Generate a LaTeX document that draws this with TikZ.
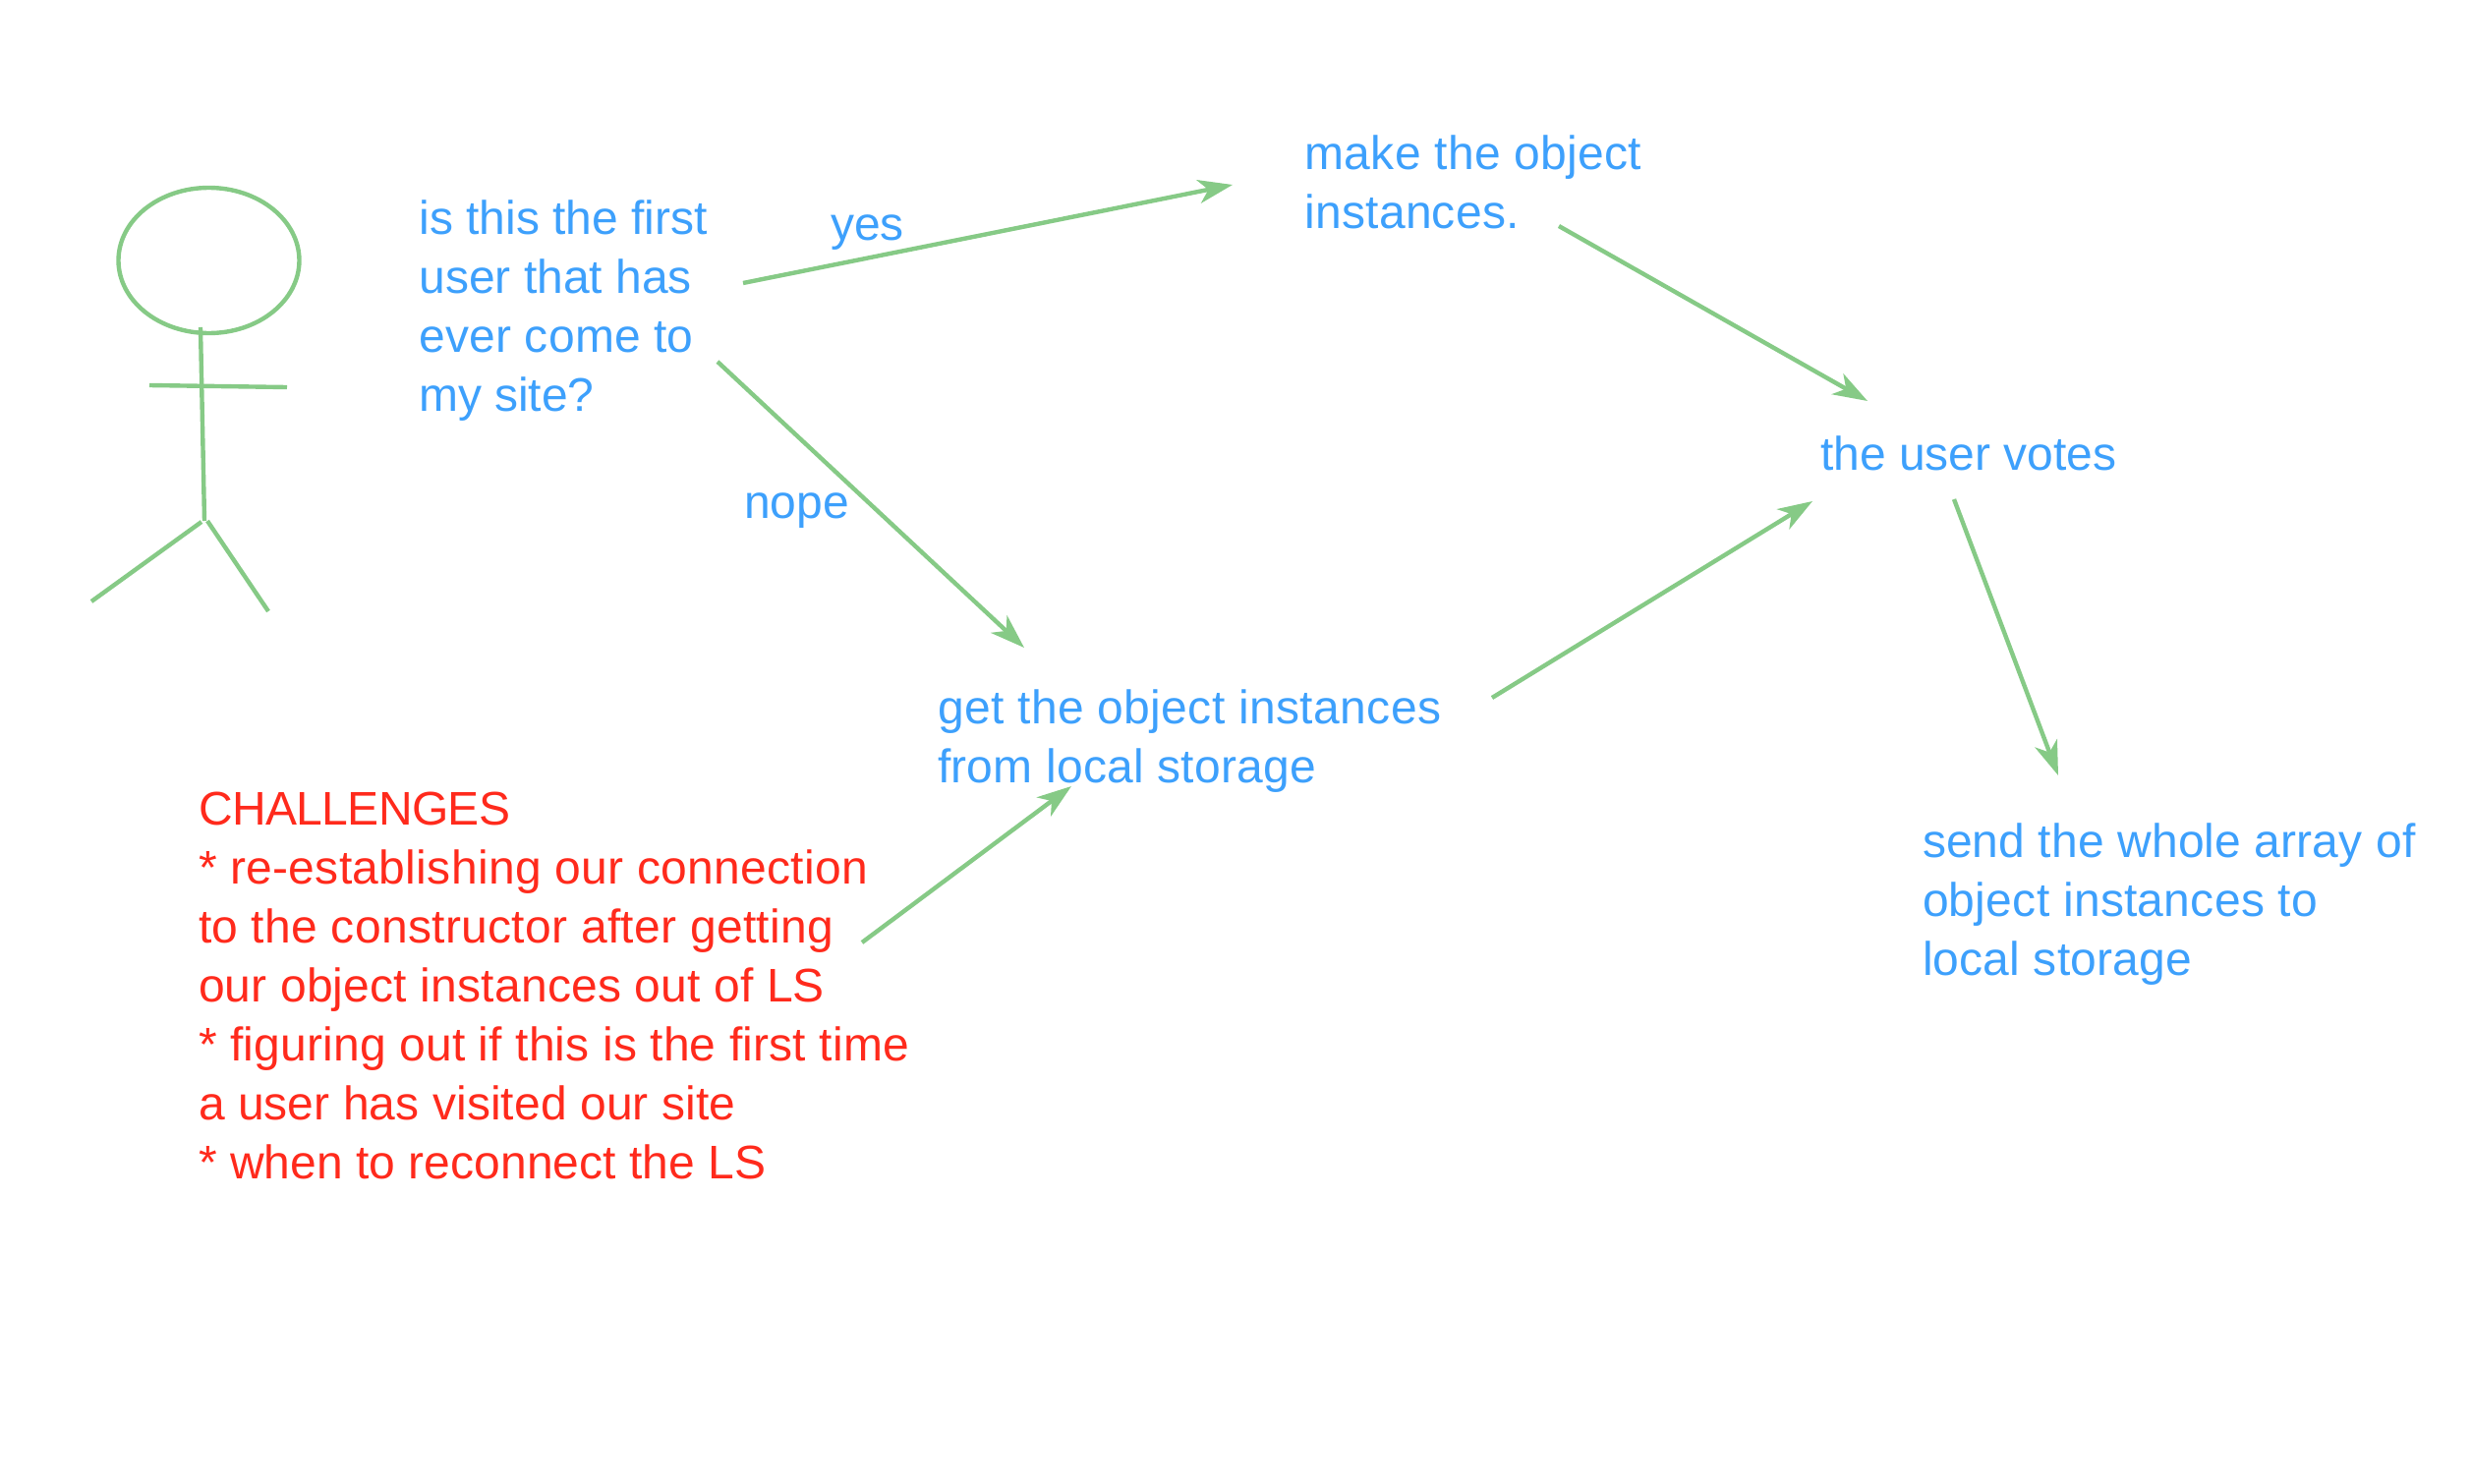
\documentclass[tikz,border=0pt]{standalone}
\usepackage{fontspec}
\setmainfont{Liberation Sans}
\usetikzlibrary{arrows.meta,shapes.geometric}
\definecolor{flowgreen}{HTML}{86CA86}
\definecolor{textblue}{HTML}{3DA0FC}
\definecolor{textred}{HTML}{FF2A1C}
\newcommand{\firstline}{\rule{0pt}{40pt}}
\newcommand{\spaced}[2]{{\addfontfeature{LetterSpace=#1}#2}}
\tikzset{
  x=1pt,y=-1pt,
  figline/.style={draw=flowgreen,line width=4.4pt},
  flow/.style={draw=flowgreen,line width=4.4pt,-{Stealth[length=35pt,width=24pt,inset=10pt]}},
  bluetext/.style={anchor=north west,inner sep=0pt,outer sep=0pt,align=left,font=\fontsize{48}{60}\selectfont,text=textblue},
  redtext/.style={bluetext,text=textred},
}
\begin{document}
\begin{tikzpicture}
\useasboundingbox (0,0) rectangle (2514,1510);
% stick figure
\node[draw=flowgreen,line width=4.4pt,ellipse,minimum width=184pt,minimum height=148pt,inner sep=0pt] (head) at (212.5,265) {};
\draw[figline] (204,333) -- (208,530);
\draw[figline] (152,392) -- (292,394);
\draw[figline] (205,531) -- (93,612);
\draw[figline] (211,530) -- (273,622);
% texts
\node[bluetext] (first) at (426.5,198) {\firstline is this the first\\user that has\\\spaced{0.4}{ever come to}\\\spaced{-0.3}{my site?}};
\node[bluetext] (make) at (1327.5,132) {\firstline \spaced{0.7}{make the object}\\\spaced{0.5}{instances.}};
\node[bluetext] (get) at (954,696) {\firstline \spaced{0.83}{get the object instances}\\\spaced{0.5}{from local storage}};
\node[bluetext] (votes) at (1852,438) {\firstline the user votes};
\node[bluetext] (send) at (1956,832) {\firstline \spaced{0.3}{send the whole array of}\\\spaced{0.6}{object instances to}\\\spaced{0.4}{local storage}};
\node[bluetext] (yes) at (845,204) {\firstline yes};
\node[bluetext] (nope) at (757,487) {\firstline nope};
\node[redtext] (chal) at (202,799) {\firstline \spaced{-1.3}{CHALLENGES}\\\spaced{0.65}{* re-establishing our connection}\\\spaced{0.65}{to the constructor after getting}\\\spaced{0.4}{our object instances out of LS}\\\spaced{0.36}{* figuring out if this is the first time}\\\spaced{0.2}{a user has visited our site}\\\spaced{0.1}{* when to reconnect the LS}};
% connectors: ends given as offsets from the top-left corner of each text
\draw[flow] ([shift={(329.5,90)}]first.north west) -- ([shift={(-73.5,56)}]make.north west);
\draw[flow] ([shift={(303.5,170)}]first.north west) -- ([shift={(88,-37)}]get.north west);
\draw[flow] ([shift={(258.5,98)}]make.north west) -- ([shift={(48,-30)}]votes.north west);
\draw[flow] ([shift={(564,14)}]get.north west) -- ([shift={(-8,72)}]votes.north west);
\draw[flow] ([shift={(136,70)}]votes.north west) -- ([shift={(138,-43)}]send.north west);
\draw[flow] ([shift={(675,160)}]chal.north west) -- ([shift={(136,104)}]get.north west);
\end{tikzpicture}
\end{document}
